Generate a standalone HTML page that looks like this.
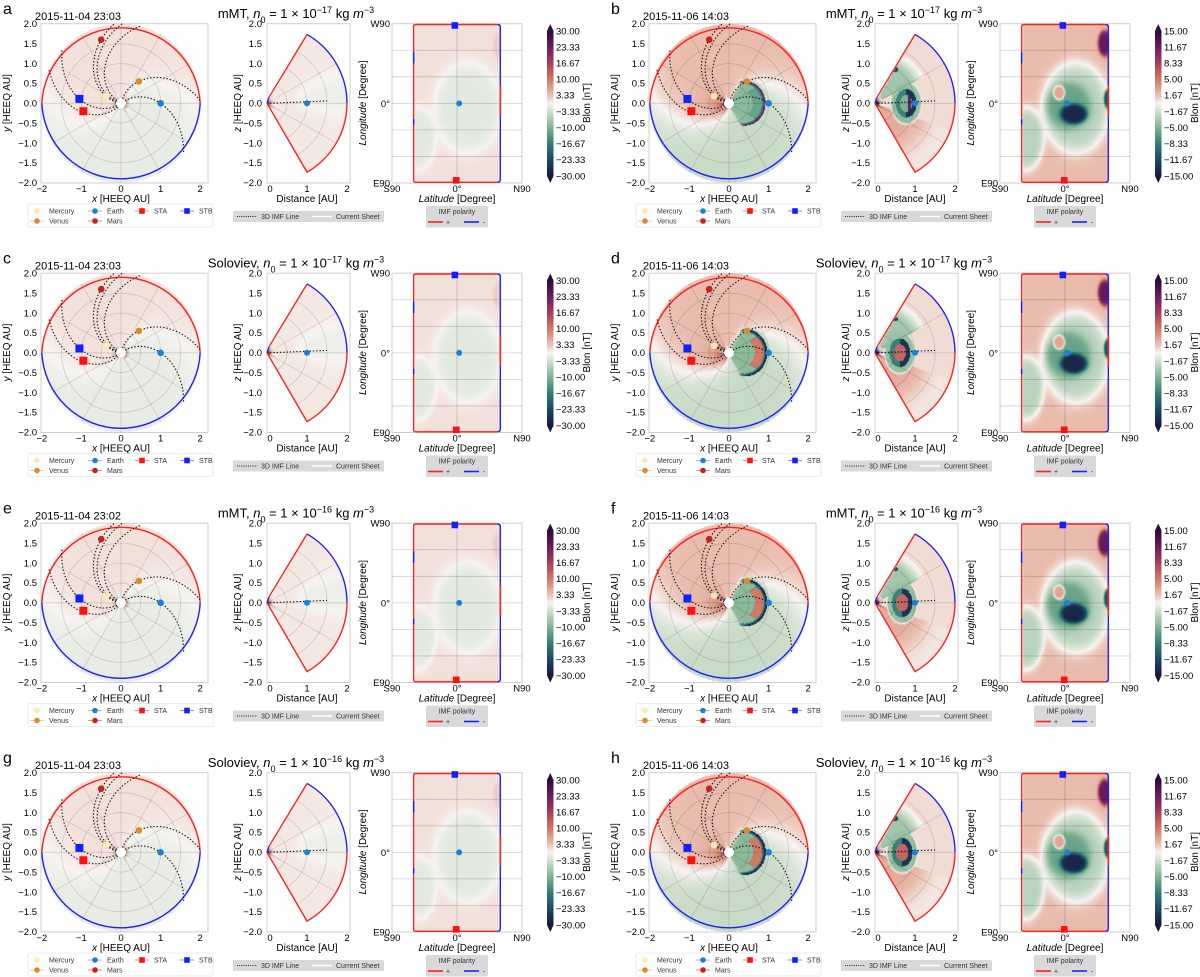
<!DOCTYPE html>
<html><head><meta charset="utf-8">
<style>
body{margin:0;background:#fff;}
#wrap{position:relative;width:1200px;height:977px;overflow:hidden;font-family:"Liberation Sans",sans-serif;background:#fff;}
#cv,#sv{position:absolute;left:0;top:0;}
</style></head>
<body>
<div id="wrap">
<canvas id="cv" width="1200" height="977"></canvas>
<svg id="sv" width="1200" height="977" xmlns="http://www.w3.org/2000/svg" font-family="Liberation Sans, sans-serif"></svg>
</div>
<script>
// ---- data ----
const panelLetters=['a','b','c','d','e','f','g','h'];
const panelModels=['mMT','mMT','Soloviev','Soloviev','mMT','mMT','Soloviev','Soloviev'];
const panelExp=['−17','−17','−17','−17','−16','−16','−16','−16'];
const panelDates=['2015-11-04 23:03','2015-11-06 14:03','2015-11-04 23:03','2015-11-06 14:03','2015-11-04 23:02','2015-11-06 14:03','2015-11-04 23:03','2015-11-06 14:03'];
const cbTicksLeft=['30.00','23.33','16.67','10.00','3.33','−3.33','−10.00','−16.67','−23.33','−30.00'];
const cbTicksRight=['15.00','11.67','8.33','5.00','1.67','−1.67','−5.00','−8.33','−11.67','−15.00'];
const cbMax=[30,15];
const planetNames=['Mercury','Venus','Earth','Mars','STA','STB'];
const planetX=[-0.38,0.45,1.0,-0.5,-0.95,-1.05];
const planetY=[0.18,0.55,0.0,1.6,-0.2,0.11];
const spiralAngles=[0,40,114,127,133,176,193];
const polarTicks=[-2,-1.5,-1,-0.5,0,0.5,1,1.5,2];
const polarXTicks=[-2,-1,0,1,2];
const midXTicks=[0,1,2];
const mapYTicks=['W90','0°','E90'];
const mapXTicks=['S90','0°','N90'];
const cmeFront=[0,0.92,0,0.97,0,0.97,0,0.93];
const cmeKind=['none','purple','none','green','none','green','none','green'];
const ringCenter=[0,0.78,0,0.62,0,0.68,0,0.68];

// ---- layout ----
const rowY=[0,249.5,499.5,749];
const colX=[0,608];
const NS='http://www.w3.org/2000/svg';
const sv=document.getElementById('sv');
function mk(tag,attrs,parent){const e=document.createElementNS(NS,tag);for(const k in attrs)e.setAttribute(k,attrs[k]);(parent||sv).appendChild(e);return e;}
function txt(str,attrs,parent){const e=mk('text',attrs,parent);e.textContent=str;return e;}
function smooth(a,b,x){const t=Math.min(1,Math.max(0,(x-a)/(b-a)));return t*t*(3-2*t);}
function fmt(v){return (v<0?'−':'')+Math.abs(v).toFixed(1);}

const CM=[[1,45,11,58],[0.778,106,29,95],[0.556,166,62,90],[0.333,208,121,102],[0.111,235,194,180],[0,247,244,242],[-0.111,207,223,204],[-0.333,127,179,147],[-0.556,47,127,118],[-0.778,29,72,102],[-1,22,24,58]];
function cmap(t){t=Math.max(-1,Math.min(1,t));for(let i=0;i<CM.length-1;i++){const a=CM[i],b=CM[i+1];if(t<=a[0]&&t>=b[0]){const f=(a[0]-t)/(a[0]-b[0]);return [a[1]+(b[1]-a[1])*f,a[2]+(b[2]-a[2])*f,a[3]+(b[3]-a[3])*f];}}return [255,255,255];}

// axis functions
function pX(ox,x){return ox+121+x*39.6;}
function pY(oy,y){return oy+103.3-y*39.75;}
function mX(ox,d){return ox+267+d*40;}
function mY(oy,z){return oy+103.3-z*39.75;}
function gX(ox,lat){return ox+392+(lat+90)/180*130;}
function gY(oy,lon){return oy+23.7+(90-lon)/180*159.3;}

// ---- field models ----
function polarVal(i,r,phi){
  const right=i%2===1;
  const A=right?2.0:1.3;
  const psi=phi+0.66*r;
  let v=A*Math.tanh(2.2*Math.cos(psi-2.76));
  const near=Math.exp(-(r-0.1)/0.05);
  v+=(right?14:25)*near*Math.cos(phi)*(Math.sin(7*phi)>0?1:-0.6);
  if(right){
    v+=5*Math.exp(-(r-0.1)/0.25)*Math.max(0,-Math.cos(phi-0.4));
    const f=cmeFront[i];const pd=phi*180/Math.PI;const u=pd/60;const au=Math.abs(u);
    if(au<1.15&&r>0.12){
      const front=f*(1-0.3*u*u);const s=front-r;
      if(s>-0.07){
        let c;
        if(s<0)c=-2;
        else if(s<0.09)c=cmeKind[i]==='purple'?(s<0.045?12:-8):(s<0.05?-14:-9);
        else if(s<0.32&&u>-0.5&&u<0.5)c=cmeKind[i]==='purple'?-6:5;
        else c=-4.5;
        const w=1-smooth(0.85,1.15,au);
        v=v*(1-w)+c*w;
      }
    }
  }
  return v;
}
function midVal(i,d,z){
  const r=Math.hypot(d,z);const th=Math.atan2(z,d)*180/Math.PI;
  const right=i%2===1;
  let v=0.8-1.6*Math.exp(-Math.pow((th-8)/18,2))*smooth(0.5,1.2,r);
  if(right){
    v=0.8;
    if(th<-20)v=2.2*(1-smooth(0.8,1.8,r))+0.5;
    if(th>28&&r>0.2&&r<1.4)v=-3.5*(1-smooth(1.0,1.4,r));
    const sp=Math.hypot((d-0.5)/0.07,(z-0.85)/0.06);if(sp<1)v=-12;
    const cx=ringCenter[i];const e=Math.hypot((d-cx)/0.26,z/0.36);
    if(e<1.6){let c;
      if(e<0.6)c=cmeKind[i]==='purple'?((Math.abs(d-cx-0.08)<0.04&&Math.abs(z)<0.2)?12:-5):6;
      else if(e<1)c=(d>cx?-13:-8);else c=-4;
      const w=1-smooth(1.3,1.6,e);v=v*(1-w)+c*w;}
  }
  v+=18*Math.exp(-(r-0.05)/0.05)*(Math.sin(8*th*Math.PI/180)>0?1:-1);
  return v;
}
function ell(lat,lon,cl,clo,rl,rlo){return Math.hypot((lat-cl)/rl,(lon-clo)/rlo);}
function mixE(v,c,e){const w=1/(1+Math.exp((e-1)*10));return v*(1-w)+c*w;}
function mapVal(i,lat,lon){
  const right=i%2===1;const A=right?2.0:1.3;
  let v=A;
  v=mixE(v,-A*1.3,ell(lat,lon,15,-5,45,50));
  v=mixE(v,-A*1.3,ell(lat,lon,-55,-40,25,35));
  v=mixE(v,A*2,ell(lat,lon,58,65,8,14));
  if(right){
    v=mixE(v,-6,ell(lat,lon,5,-3,30,26));
    v=mixE(v,3,ell(lat,lon,-8,12,8,8));
    v=mixE(v,-14,ell(lat,lon,12,-12,18,11));
    v=mixE(v,12,ell(lat,lon,55,68,9,14));
    v=mixE(v,-11,ell(lat,lon,60,5,6,11));
  }
  return v;
}

// ---- canvas fields ----
const cv=document.getElementById('cv');const ctx=cv.getContext('2d');
const img=ctx.createImageData(1200,977);const D=img.data;
function setPx(px,py,v,vmax){if(px<0||py<0||px>=1200||py>=977)return;const c=cmap(v/vmax);const o=(py*1200+px)*4;D[o]=c[0];D[o+1]=c[1];D[o+2]=c[2];D[o+3]=255;}
for(let i=0;i<8;i++){
  const ox=colX[i%2],oy=rowY[Math.floor(i/2)],vmax=cbMax[i%2];
  for(let py=Math.floor(oy+22);py<oy+185;py++){
    for(let px=Math.floor(ox+40);px<ox+203;px++){
      const x=(px+0.5-(ox+121))/39.6,y=((oy+103.3)-(py+0.5))/39.75;const r=Math.hypot(x,y);
      if(r>2||r<0.1)continue;
      setPx(px,py,polarVal(i,r,Math.atan2(y,x)),vmax);
    }
    for(let px=Math.floor(ox+267);px<ox+350;px++){
      const d=(px+0.5-(ox+267))/40,z=((oy+103.3)-(py+0.5))/39.75;const r=Math.hypot(d,z);
      if(r>2||Math.abs(Math.atan2(z,d))>Math.PI/3)continue;
      setPx(px,py,midVal(i,d,z),vmax);
    }
  }
  for(let py=Math.floor(oy+24);py<oy+183;py++){
    for(let px=Math.floor(ox+415);px<ox+501;px++){
      const lat=-90+(px+0.5-(ox+392))/130*180;const lon=90-(py+0.5-(oy+23.7))/159.3*180;
      setPx(px,py,mapVal(i,lat,lon),vmax);
    }
  }
}
ctx.putImageData(img,0,0);

// ---- svg overlay ----
const defs=mk('defs',{});
const grad=mk('linearGradient',{id:'cbgrad',x1:0,y1:0,x2:0,y2:1},defs);
CM.forEach(s=>{mk('stop',{offset:((1-s[0])/2*100)+'%','stop-color':'rgb('+s.slice(1).join(',')+')'},grad);});
const planetColor=['#fde9b5','#d98c2b','#1f7fd6','#c8221f','#ff1010','#1020ff'];
const planetShape=['c','c','c','c','s','s'];
function marker(g,k,x,y,sz){
  let e;
  if(planetShape[k]==='c'){e=mk('circle',{cx:x,cy:y,r:sz,fill:planetColor[k]},g);}
  else{e=mk('rect',{x:x-sz,y:y-sz,width:sz*2,height:sz*2,fill:planetColor[k]},g);}
  return e;
}

for(let i=0;i<8;i++){
  const ox=colX[i%2],oy=rowY[Math.floor(i/2)];
  const G=mk('g',{});
  
  
  const lt=txt(panelLetters[i],{x:ox+3,y:oy+14,'font-size':16},G);
  
  
  const dt=txt(panelDates[i],{x:ox+35,y:oy+20,'font-size':11},G);
  
  
  const tt=mk('text',{x:ox+296,y:oy+18,'font-size':13,'text-anchor':'middle'},G);
  
  
  const parts=[[panelModels[i]+',  ',{}],['n',{'font-style':'italic'}],['0',{'baseline-shift':'sub','font-size':9}],[' = 1 × 10',{}],[panelExp[i],{'baseline-shift':'super','font-size':9}],[' kg ',{}],['m',{'font-style':'italic'}],['−3',{'baseline-shift':'super','font-size':9}]];
  parts.forEach(p=>{const s=mk('tspan',p[1],tt);s.textContent=p[0];});

  // ===== polar =====
  const P=mk('g',{},G);
  
  
  const fr=mk('rect',{x:ox+41,y:oy+23.7,width:167,height:159.3,fill:'none',stroke:'#cfcfcf','stroke-width':1},P);
  
  
  const cx=pX(ox,0),cy=pY(oy,0);
  [0.5,1,1.5].forEach(rr=>{const c=mk('circle',{cx:cx,cy:cy,r:rr*39.7,fill:'none',stroke:'rgba(0,0,0,0.14)','stroke-width':0.8},P);
    
    });
  for(let a=0;a<180;a+=30){const ra=a*Math.PI/180;const l=mk('line',{x1:pX(ox,2*Math.cos(ra)),y1:pY(oy,2*Math.sin(ra)),x2:pX(ox,-2*Math.cos(ra)),y2:pY(oy,-2*Math.sin(ra)),stroke:'rgba(0,0,0,0.14)','stroke-width':0.8},P);
    
    }
  const ar=mk('path',{d:`M${pX(ox,2)},${cy} A79.3,79.5 0 0 0 ${pX(ox,-2)},${cy}`,fill:'none',stroke:'#ff2020','stroke-width':1.4},P);
  
  
  const ab=mk('path',{d:`M${pX(ox,-2)},${cy} A79.3,79.5 0 0 0 ${pX(ox,2)},${cy}`,fill:'none',stroke:'#2020ff','stroke-width':1.4},P);
  
  
  spiralAngles.forEach(a1=>{
    let d='';for(let r=0.12;r<=2.0001;r+=0.02){const ph=a1*Math.PI/180-0.66*(r-1);d+=(d?'L':'M')+pX(ox,r*Math.cos(ph)).toFixed(1)+','+pY(oy,r*Math.sin(ph)).toFixed(1);}
    const s=mk('path',{d:d,fill:'none',stroke:'#111','stroke-width':1.1,'stroke-dasharray':'1.4,1.9'},P);
    
    
  });
  const sun=mk('circle',{cx:cx,cy:cy,r:5,fill:'#fff'},P);
  
  
  planetNames.forEach((n,k)=>{const m=marker(P,k,pX(ox,planetX[k]),pY(oy,planetY[k]),planetShape[k]==='s'?4:3.3);
    
    });
  polarTicks.forEach(t=>{const e=txt(fmt(t),{x:ox+37,y:pY(oy,t)+3.3,'font-size':9.5,'text-anchor':'end'},P);
    
    });
  polarXTicks.forEach(t=>{const e=txt(t<0?'−'+Math.abs(t):String(t),{x:pX(ox,t),y:oy+192,'font-size':9.5,'text-anchor':'middle'},P);
    
    });
  const xl=mk('text',{x:pX(ox,0),y:oy+202,'font-size':10,'text-anchor':'middle'},P);
  
  
  let s1=mk('tspan',{'font-style':'italic'},xl);s1.textContent='x';let s2=mk('tspan',{},xl);s2.textContent=' [HEEQ AU]';
  const yl=mk('text',{x:ox+10,y:oy+103,'font-size':10,'text-anchor':'middle',transform:`rotate(-90 ${ox+10} ${oy+103})`},P);
  
  
  s1=mk('tspan',{'font-style':'italic'},yl);s1.textContent='y';s2=mk('tspan',{},yl);s2.textContent=' [HEEQ AU]';
  const L=mk('g',{},P);
  
  
  mk('rect',{x:ox+28,y:oy+204,width:185,height:23,fill:'#fff',stroke:'#e6e6e6','stroke-width':0.8,rx:2},L);
  const legX=[37,37,95,95,142,187],legRow=[0,1,0,1,0,0];
  const legOrder=[0,1,2,3,4,5];
  legOrder.forEach(k=>{const lgx=ox+legX[k],lgy=oy+211+legRow[k]*10;
    mk('line',{x1:lgx-7,y1:lgy,x2:lgx+7,y2:lgy,stroke:planetColor[k],'stroke-width':0.8,opacity:0.6},L);
    marker(L,k,lgx,lgy,2.8);
    const e=txt(planetNames[k],{x:lgx+12,y:lgy+2.5,'font-size':7,fill:'#333'},L);
    
    });

  // ===== meridional =====
  const M=mk('g',{},G);
  
  
  const mf=mk('rect',{x:ox+267,y:oy+23.7,width:83,height:159.3,fill:'none',stroke:'#cfcfcf','stroke-width':1},M);
  
  
  const ax=mX(ox,0),ay=mY(oy,0);
  [0.5,1,1.5].forEach(rr=>{const a0=Math.PI/3;const e=mk('path',{d:`M${mX(ox,rr*Math.cos(a0))},${mY(oy,rr*Math.sin(a0))} A${rr*40},${rr*39.75} 0 0 1 ${mX(ox,rr*Math.cos(a0))},${mY(oy,-rr*Math.sin(a0))}`,fill:'none',stroke:'rgba(0,0,0,0.14)','stroke-width':0.8},M);
    
    });
  [-30,0,30].forEach(a=>{const ra=a*Math.PI/180;const e=mk('line',{x1:ax,y1:ay,x2:mX(ox,2*Math.cos(ra)),y2:mY(oy,2*Math.sin(ra)),stroke:'rgba(0,0,0,0.14)','stroke-width':0.8},M);
    
    });
  const tx=mX(ox,1),tyT=mY(oy,1.732),tyB=mY(oy,-1.732);
  const e1=mk('path',{d:`M${ax+2},${ay-6} L${tx},${tyT}`,stroke:'#ff2020','stroke-width':1.4,fill:'none'},M);
  
  
  const e1b=mk('path',{d:`M${ax},${ay} L${ax+2},${ay-6}`,stroke:'#2020ff','stroke-width':1.4,fill:'none'},M);
  
  
  const e2=mk('path',{d:`M${tx},${tyT} A80,79.5 0 0 1 ${mX(ox,2)},${ay}`,stroke:'#2020ff','stroke-width':1.4,fill:'none'},M);
  
  
  const e3=mk('path',{d:`M${mX(ox,2)},${ay} A80,79.5 0 0 1 ${tx},${tyB} L${ax},${ay}`,stroke:'#ff2020','stroke-width':1.4,fill:'none'},M);
  
  
  const dl=mk('line',{x1:ax+3,y1:ay,x2:mX(ox,1.5),y2:mY(oy,0.06),stroke:'#111','stroke-width':1.1,'stroke-dasharray':'1.4,1.9'},M);
  
  
  const em=marker(M,2,mX(ox,1),mY(oy,0.0),3);
  
  
  polarTicks.forEach(t=>{const e=txt(fmt(t),{x:ox+262,y:mY(oy,t)+3.3,'font-size':9.5,'text-anchor':'end'},M);
    
    });
  midXTicks.forEach(t=>{const e=txt(String(t),{x:mX(ox,t)+(t===0?3:0),y:oy+192,'font-size':9.5,'text-anchor':'middle'},M);
    
    });
  const dxl=txt('Distance [AU]',{x:mX(ox,1),y:oy+202,'font-size':10,'text-anchor':'middle'},M);
  
  
  const zl=mk('text',{x:ox+241,y:oy+103,'font-size':10,'text-anchor':'middle',transform:`rotate(-90 ${ox+241} ${oy+103})`},M);
  
  
  s1=mk('tspan',{'font-style':'italic'},zl);s1.textContent='z';s2=mk('tspan',{},zl);s2.textContent=' [HEEQ AU]';
  const ML=mk('g',{},M);
  
  
  mk('rect',{x:ox+233,y:oy+211,width:151,height:11,fill:'#d9d9d9'},ML);
  mk('line',{x1:ox+237,y1:oy+216.5,x2:ox+257,y2:oy+216.5,stroke:'#222','stroke-width':0.9,'stroke-dasharray':'1,1.2'},ML);
  const l1=txt('3D IMF Line',{x:ox+261,y:oy+219,'font-size':7,fill:'#333'},ML);
  
  
  mk('line',{x1:ox+312,y1:oy+216.5,x2:ox+332,y2:oy+216.5,stroke:'#fff','stroke-width':1.5},ML);
  const l2=txt('Current Sheet',{x:ox+336,y:oy+219,'font-size':7,fill:'#333'},ML);
  
  

  // ===== lat-lon map =====
  const Q=mk('g',{},G);
  
  
  const qf=mk('rect',{x:ox+392,y:oy+23.7,width:130,height:159.3,fill:'none',stroke:'#cfcfcf','stroke-width':1},Q);
  
  
  [60,30,0,-30,-60].forEach(lo=>{const e=mk('line',{x1:ox+392,y1:gY(oy,lo),x2:ox+522,y2:gY(oy,lo),stroke:'rgba(0,0,0,0.18)','stroke-width':0.8},Q);
    
    });
  const vg=mk('line',{x1:gX(ox,0),y1:oy+23.7,x2:gX(ox,0),y2:oy+183,stroke:'rgba(0,0,0,0.18)','stroke-width':0.8},Q);
  
  
  const L1=gX(ox,-60),R1=gX(ox,60),T1=oy+24.5,B1=oy+182.3;
  const br=mk('path',{d:`M${R1-3},${T1} L${L1+2},${T1} Q${L1},${T1} ${L1},${T1+2} L${L1},${B1-2} Q${L1},${B1} ${L1+2},${B1} L${R1-3},${B1}`,fill:'none',stroke:'#ff2020','stroke-width':1.4},Q);
  
  
  const bb=mk('path',{d:`M${R1-3},${T1} Q${R1},${T1} ${R1},${T1+3} L${R1},${B1-3} Q${R1},${B1} ${R1-3},${B1}`,fill:'none',stroke:'#2020ff','stroke-width':1.4},Q);
  
  
  [[58,45],[-18,-24]].forEach(seg=>{const e=mk('line',{x1:L1,y1:gY(oy,seg[0]),x2:L1,y2:gY(oy,seg[1]),stroke:'#2020ff','stroke-width':1.6},Q);
    
    });
  [[20,-15]].forEach(seg=>{const e=mk('line',{x1:R1,y1:gY(oy,seg[0]),x2:R1,y2:gY(oy,seg[1]),stroke:'#ff2020','stroke-width':1.6},Q);
    
    });
  const stb=marker(Q,5,gX(ox,-3),gY(oy,88),3.3);
  
  
  const sta=marker(Q,4,gX(ox,-1),gY(oy,-87),3.3);
  
  
  const ea=marker(Q,2,gX(ox,3),gY(oy,0),3);
  
  
  [90,0,-90].forEach((lo,k)=>{const e=txt(mapYTicks[k],{x:ox+390,y:gY(oy,lo)+3.5,'font-size':9.5,'text-anchor':'end'},Q);
    
    });
  [-90,0,90].forEach((la,k)=>{const e=txt(mapXTicks[k],{x:gX(ox,la),y:oy+192,'font-size':9.5,'text-anchor':'middle'},Q);
    
    });
  const lx=mk('text',{x:gX(ox,0),y:oy+202,'font-size':10,'text-anchor':'middle'},Q);
  
  
  s1=mk('tspan',{'font-style':'italic'},lx);s1.textContent='Latitude';s2=mk('tspan',{},lx);s2.textContent=' [Degree]';
  const ly=mk('text',{x:ox+366,y:oy+103,'font-size':10,'text-anchor':'middle',transform:`rotate(-90 ${ox+366} ${oy+103})`},Q);
  
  
  s1=mk('tspan',{'font-style':'italic'},ly);s1.textContent='Longitude';s2=mk('tspan',{},ly);s2.textContent=' [Degree]';
  const IL=mk('g',{},Q);
  
  
  mk('rect',{x:ox+426,y:oy+206,width:62,height:21.5,fill:'#d9d9d9',rx:1.5},IL);
  const it=txt('IMF polarity',{x:ox+457,y:oy+214,'font-size':7,'text-anchor':'middle',fill:'#333'},IL);
  
  
  mk('line',{x1:ox+428,y1:oy+222,x2:ox+443,y2:oy+222,stroke:'#ff2020','stroke-width':1.6},IL);
  const ip=txt('+',{x:ox+446,y:oy+224.5,'font-size':7,fill:'#333'},IL);
  
  
  mk('line',{x1:ox+464,y1:oy+222,x2:ox+479,y2:oy+222,stroke:'#2020ff','stroke-width':1.6},IL);
  const im=txt('-',{x:ox+483,y:oy+224.5,'font-size':7,fill:'#333'},IL);
  
  

  // ===== colorbar =====
  const C=mk('g',{},G);
  
  
  const cbx=ox+547,cbw=6.5,cbt=oy+31,cbb=oy+176;
  mk('rect',{x:cbx,y:cbt,width:cbw,height:cbb-cbt,fill:'url(#cbgrad)'},C);
  mk('path',{d:`M${cbx},${cbt} L${cbx+cbw},${cbt} L${cbx+cbw/2},${oy+24} Z`,fill:'rgb(45,11,58)'},C);
  mk('path',{d:`M${cbx},${cbb} L${cbx+cbw},${cbb} L${cbx+cbw/2},${oy+183} Z`,fill:'rgb(22,24,58)'},C);
  const ticks=i%2?cbTicksRight:cbTicksLeft;
  ticks.forEach((t,k)=>{const yy=cbt+k*(cbb-cbt)/9;const e=txt(t,{x:cbx+cbw+2.5,y:yy+3.3,'font-size':9.5},C);
    
    });
  const ct=txt('Blon  [nT]',{x:ox+590,y:oy+103,'font-size':10,'text-anchor':'middle',transform:`rotate(-90 ${ox+590} ${oy+103})`},C);
  
  
}
</script>
</body></html>
